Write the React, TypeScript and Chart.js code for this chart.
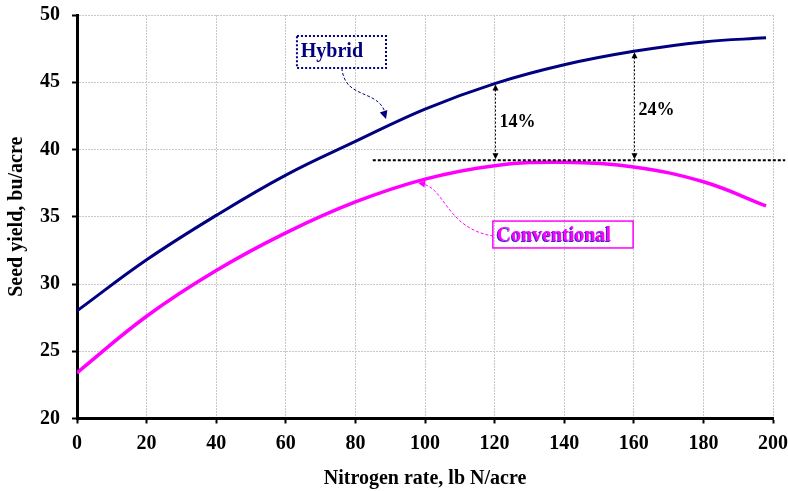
import React, { useEffect, useRef } from "react";
import { Chart, registerables } from "chart.js";

Chart.register(...registerables);

const nitrogenRates = [0, 20, 40, 60, 80, 100, 120, 140, 160, 180, 198];
const hybridYield = [28.0, 31.8, 35.1, 38.1, 40.6, 43.0, 44.9, 46.3, 47.3, 48.0, 48.3];
const conventionalYield = [23.4, 27.6, 31.0, 33.8, 36.1, 37.8, 38.8, 39.05, 38.7, 37.6, 35.8];
const xTicks = [0, 20, 40, 60, 80, 100, 120, 140, 160, 180, 200];
const yTicks = [20, 25, 30, 35, 40, 45, 50];
const baselineYield = 39.2;
const compareRates = [120, 160];
const compareLabels = ["14%", "24%"];
const compareLabelYields = [42.0, 42.9];

const FONT = "'Liberation Serif', 'Times New Roman', serif";

function arrowHead(ctx: CanvasRenderingContext2D, x: number, y: number, ang: number, size: number) {
  ctx.save();
  ctx.translate(x, y);
  ctx.rotate(ang);
  ctx.beginPath();
  ctx.moveTo(0, 0);
  ctx.lineTo(-size, -size * 0.5);
  ctx.lineTo(-size, size * 0.5);
  ctx.closePath();
  ctx.fill();
  ctx.restore();
}

const annotationPlugin = {
  id: "annots",
  afterDatasetsDraw(chart: any) {
    const ctx: CanvasRenderingContext2D = chart.ctx;
    const xs = chart.scales.x;
    const ys = chart.scales.y;
    const px = (v: number) => xs.getPixelForValue(v);
    const py = (v: number) => ys.getPixelForValue(v);
    ctx.save();

    // baseline dotted line
    ctx.strokeStyle = "#000";
    ctx.lineWidth = 2;
    ctx.setLineDash([3, 2]);
    ctx.beginPath();
    ctx.moveTo(px(85), py(baselineYield));
    ctx.lineTo(px(203.5), py(baselineYield));
    ctx.stroke();

    // vertical comparison arrows
    compareRates.forEach((r, i) => {
      const idx = nitrogenRates.indexOf(r);
      const top = hybridYield[idx];
      const x = Math.round(px(r)) + 0.5;
      const y1 = py(top) + 1;
      const y2 = py(baselineYield) - 1;
      ctx.strokeStyle = "#000";
      ctx.lineWidth = 1;
      ctx.setLineDash([2, 2]);
      ctx.beginPath();
      ctx.moveTo(x, y1 + 5);
      ctx.lineTo(x, y2 - 5);
      ctx.stroke();
      ctx.setLineDash([]);
      ctx.fillStyle = "#000";
      arrowHead(ctx, x, y1, -Math.PI / 2, 6);
      arrowHead(ctx, x, y2, Math.PI / 2, 6);
      ctx.font = `bold 18px ${FONT}`;
      ctx.textAlign = "left";
      ctx.textBaseline = "middle";
      ctx.fillText(compareLabels[i], x + 4, py(compareLabelYields[i]));
    });

    // Hybrid label box
    ctx.setLineDash([2, 2]);
    ctx.strokeStyle = "#000080";
    ctx.lineWidth = 2;
    const hx1 = px(63.2), hx2 = px(88.8), hy1 = py(48.44), hy2 = py(46.06);
    ctx.strokeRect(hx1, hy1, hx2 - hx1, hy2 - hy1);
    ctx.setLineDash([]);
    ctx.fillStyle = "#000080";
    ctx.font = `bold 20px ${FONT}`;
    ctx.textAlign = "left";
    ctx.textBaseline = "middle";
    ctx.fillText("Hybrid", px(64.3), py(47.25));

    // Hybrid connector
    ctx.lineWidth = 1;
    ctx.setLineDash([3, 2]);
    ctx.beginPath();
    ctx.moveTo(px(76.1), py(46.06));
    ctx.bezierCurveTo(px(77.0), py(43.6), px(87.1), py(44.6), px(88.8), py(42.5));
    ctx.stroke();
    ctx.setLineDash([]);
    arrowHead(ctx, px(88.8), py(42.27), Math.PI * 0.4, 8);

    // Conventional label box
    ctx.strokeStyle = "#ff00ff";
    ctx.lineWidth = 1.5;
    const cx1 = px(119.5), cx2 = px(159.8), cy1 = py(34.68), cy2 = py(32.68);
    ctx.strokeRect(cx1, cy1, cx2 - cx1, cy2 - cy1);
    ctx.font = `bold 20px ${FONT}`;
    ctx.fillStyle = "#3030c0";
    ctx.fillText("Conventional", px(120.6) - 1, py(33.57) + 0.5);
    ctx.fillStyle = "#ff00ff";
    ctx.fillText("Conventional", px(120.6), py(33.57));

    // Conventional connector
    ctx.strokeStyle = "#ff00ff";
    ctx.lineWidth = 1;
    ctx.setLineDash([3, 2]);
    ctx.beginPath();
    ctx.moveTo(px(98.6), py(37.45));
    ctx.bezierCurveTo(px(105.7), py(37.36), px(105.7), py(34.16), px(119.5), py(33.57));
    ctx.stroke();
    ctx.setLineDash([]);
    ctx.fillStyle = "#ff00ff";
    arrowHead(ctx, px(98.0), py(37.51), Math.PI * 1.05, 7);

    ctx.restore();
  },
};

export default function App() {
  const ref = useRef<HTMLCanvasElement | null>(null);
  useEffect(() => {
    if (!ref.current) return;
    const chart = new Chart(ref.current, {
      type: "line",
      data: {
        datasets: [
          {
            label: "Hybrid",
            data: nitrogenRates.map((x, i) => ({ x, y: hybridYield[i] })),
            borderColor: "#000080",
            borderWidth: 3,
            pointRadius: 0,
            tension: 0.4,
            fill: false,
          },
          {
            label: "Conventional",
            data: nitrogenRates.map((x, i) => ({ x, y: conventionalYield[i] })),
            borderColor: "#ff00ff",
            borderWidth: 3.5,
            pointRadius: 0,
            tension: 0.4,
            fill: false,
          },
        ],
      },
      options: {
        responsive: false,
        animation: false,
        devicePixelRatio: 1,
        layout: { padding: 0 },
        plugins: { legend: { display: false }, tooltip: { enabled: false } },
        scales: {
          x: {
            type: "linear",
            min: 0,
            max: 200,
            afterBuildTicks: (axis: any) => {
              axis.ticks = xTicks.map((v) => ({ value: v }));
            },
            afterFit: (axis: any) => {
              axis.height = 72.5;
              axis.paddingLeft = 0;
              axis.paddingRight = 15;
            },
            ticks: {
              color: "#000",
              font: { family: FONT, size: 20, weight: "bold" },
              padding: 8,
              maxRotation: 0,
            },
            grid: { color: "#c8c8c8", tickColor: "#000", tickLength: 5, tickWidth: 2 },
            border: { color: "#000", width: 3, dash: [2, 1] },
            title: {
              display: true,
              text: "Nitrogen rate, lb N/acre",
              color: "#000",
              font: { family: FONT, size: 20, weight: "bold" },
              padding: { top: 0, bottom: 0 },
            },
          },
          y: {
            type: "linear",
            min: 20,
            max: 50,
            afterBuildTicks: (axis: any) => {
              axis.ticks = yTicks.map((v) => ({ value: v }));
            },
            afterFit: (axis: any) => {
              axis.width = 77;
              axis.paddingTop = 15;
              axis.paddingBottom = 0;
            },
            ticks: {
              color: "#000",
              font: { family: FONT, size: 20, weight: "bold" },
              padding: 12,
            },
            grid: { color: "#c8c8c8", tickColor: "#000", tickLength: 5, tickWidth: 2 },
            border: { color: "#000", width: 3, dash: [2, 1] },
            title: {
              display: true,
              text: "Seed yield, bu/acre",
              color: "#000",
              font: { family: FONT, size: 20, weight: "bold" },
              padding: { top: 5, bottom: 0 },
            },
          },
        },
      },
      plugins: [annotationPlugin],
    } as any);
    return () => chart.destroy();
  }, []);
  return (
    <div style={{ position: "absolute", left: 0, top: 0, width: 788, height: 491, background: "#fff" }}>
      <canvas ref={ref} width={788} height={491} />
    </div>
  );
}
